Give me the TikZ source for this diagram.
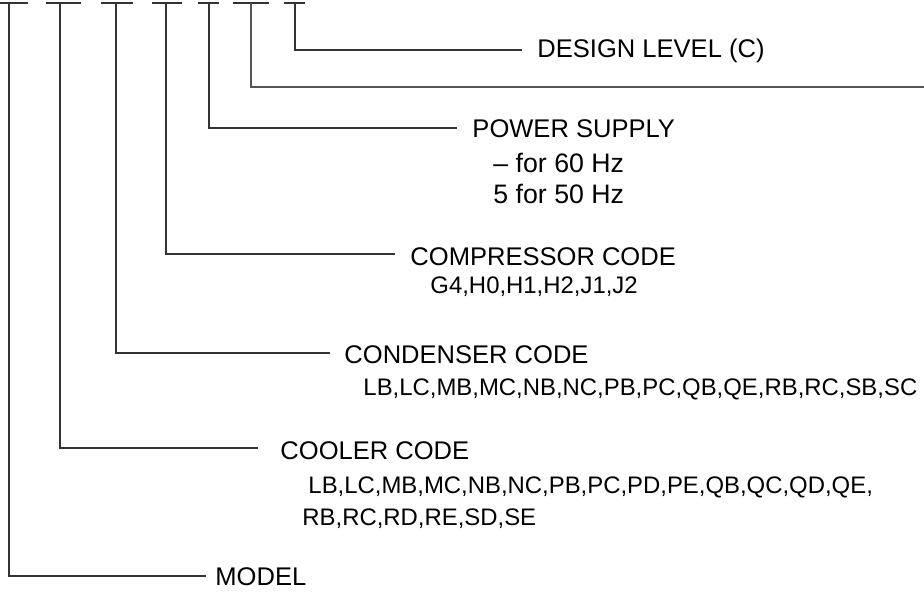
\documentclass[tikz,border=0pt]{standalone}
\usepackage{fontspec}
\setmainfont{Liberation Sans}
\usepackage{tikz}
\usetikzlibrary{positioning}
\usepackage{xcolor}
\definecolor{wire}{HTML}{333333}
\definecolor{wirelt}{HTML}{555555}

\begin{document}
\begin{tikzpicture}[
      x=0.15mm,y=-0.15mm,
      head/.style={anchor=base west,inner sep=0pt,font=\fontsize{10.9}{13}\selectfont},
      hz/.style={anchor=base west,inner sep=0pt,font=\fontsize{11.4}{13}\selectfont},
      codes/.style={anchor=base west,inner sep=0pt,font=\fontsize{10.2}{12}\selectfont},
      slot/.style={line width=0.65pt,draw=wire},
      lead/.style={line width=0.6pt,draw=wire}]

    \useasboundingbox (0,0) rectangle (924,592);

    % code positions along the top
    \foreach \a/\b/\m/\n in {0/28/9/1,46/81/60/2,101/133/116/3,152/182/166/4,198/219/209/5,233/269/251/6,284/305/295/7}{
      \draw[slot] (\a,3) -- (\b,3);
      \coordinate (s\n) at (\m,3);
    }

    % ends of the leader lines
    \coordinate (e1) at (206,576);
    \coordinate (e2) at (258,448);
    \coordinate (e3) at (330,353);
    \coordinate (e4) at (395,254);
    \coordinate (e5) at (457,128);
    \coordinate (e6) at (924,87);
    \coordinate (e7) at (522,50);

    \foreach \n in {1,2,3,4,5,7}
      \draw[lead] (s\n) |- (e\n);
    \draw[lead,line width=0.9pt,draw=wirelt] (s6) |- (e6);

    \node[head] (design) at (537,57) {DESIGN LEVEL (C)};

    \node[head] (power) at (472,137) {POWER SUPPLY};
    \node[hz] (hz60) at (493,172) {– for 60 Hz};
    \node[hz] (hz50) at (493,203) {5 for 50 Hz};

    \node[head] (comp) at (410,265) {COMPRESSOR CODE};
    \node[codes] (compcodes) at (430,293) {G4,H0,H1,H2,J1,J2};

    \node[head] (cond) at (344,363) {CONDENSER CODE};
    \node[codes] (condcodes) at (363,395) {LB,LC,MB,MC,NB,NC,PB,PC,QB,QE,RB,RC,SB,SC};

    \node[head] (cool) at (280,459) {COOLER CODE};
    \node[codes] (coolA) at (308,493) {LB,LC,MB,MC,NB,NC,PB,PC,PD,PE,QB,QC,QD,QE,};
    \node[codes] (coolB) at (302,525) {RB,RC,RD,RE,SD,SE};

    \node[head] (model) at (215,585) {MODEL};
  \end{tikzpicture}
\end{document}
